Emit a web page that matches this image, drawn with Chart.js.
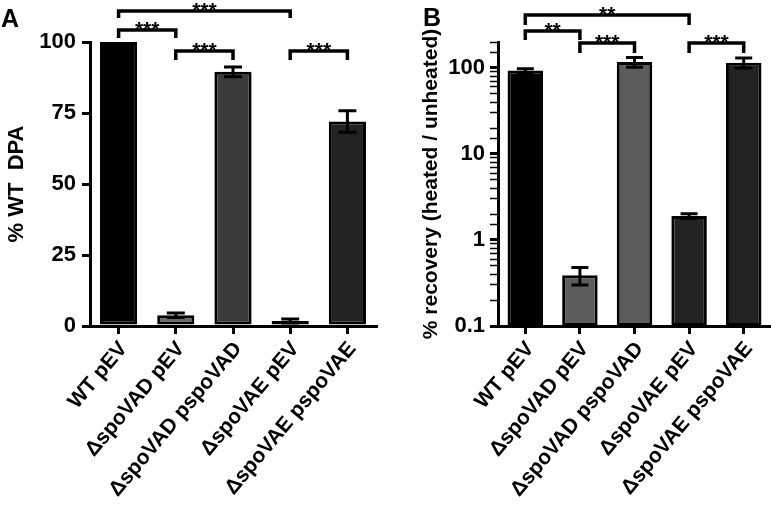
<!DOCTYPE html>
<html>
<head>
<meta charset="utf-8">
<script src="https://cdn.jsdelivr.net/npm/chart.js@4.4.1/dist/chart.umd.min.js"></script>
<style>
  html, body { margin: 0; padding: 0; background: #fff; }
  #wrap { position: relative; width: 771px; height: 507px; overflow: hidden; }
  canvas { position: absolute; top: 0; }
  #chartA { left: 0; }
  #chartB { left: 390px; }
</style>
</head>
<body>
<div id="wrap">
  <canvas id="chartA" width="390" height="507"></canvas>
  <canvas id="chartB" width="381" height="507"></canvas>
</div>
<script>
// strains
const categories = ['WT pEV', 'ΔspoVAD pEV', 'ΔspoVAD pspoVAD', 'ΔspoVAE pEV', 'ΔspoVAE pspoVAE'];

// panel A: % WT DPA (mean, error)
const dpaMean = [100, 3.8, 89.5, 1.8, 72];
const dpaErr = [0, 0.8, 1.7, 0.7, 3.8];
const dpaTicks = [0, 25, 50, 75, 100];

// panel B: % recovery (heated / unheated), log axis
const recoveryMean = [93, 0.39, 117, 1.9, 115];
const recoveryErr = [5, 0.09, 15, 0.12, 15];
const recoveryLabels = [0.1, 1, 10, 100];

// significance brackets (category index from -> to)
const sigAFrom = [0, 0, 1, 3];
const sigATo = [3, 1, 2, 4];
const sigAText = ['***', '***', '***', '***'];
const sigBFrom = [0, 0, 1, 3];
const sigBTo = [3, 1, 2, 4];
const sigBText = ['**', '**', '***', '***'];

const FONT = "'Liberation Sans', Arial, sans-serif";
Chart.defaults.font.family = FONT;
Chart.defaults.color = '#000';

const extras = {
    id: 'extras',
    afterDatasetsDraw(chart, args, opts) {
        const ctx = chart.ctx, y = chart.scales.y;
        const meta = chart.getDatasetMeta(0);
        ctx.save();
        ctx.strokeStyle = '#000';
        ctx.lineWidth = 3;
        opts.errors.forEach((e, i) => {
            if (!e) return;
            const v = opts.means[i];
            const px = meta.data[i].x;
            const top = y.getPixelForValue(v + e);
            const bot = y.getPixelForValue(v - e);
            ctx.beginPath();
            ctx.moveTo(px, top); ctx.lineTo(px, bot);
            ctx.moveTo(px - opts.cap, top); ctx.lineTo(px + opts.cap, top);
            ctx.moveTo(px - opts.cap, bot); ctx.lineTo(px + opts.cap, bot);
            ctx.stroke();
        });
        ctx.restore();
    },
    afterDraw(chart, args, opts) {
        const ctx = chart.ctx, x = chart.scales.x;
        ctx.save();
        ctx.strokeStyle = '#000';
        ctx.fillStyle = '#000';
        ctx.lineWidth = 3.5;
        ctx.lineJoin = 'miter';
        ctx.textAlign = 'center';
        ctx.textBaseline = 'alphabetic';
        ctx.font = 'bold 21px ' + FONT;
        opts.from.forEach((f, i) => {
            const x1 = x.getPixelForValue(f);
            const x2 = x.getPixelForValue(opts.to[i]);
            const yy = opts.levels[i], leg = opts.legs[i];
            ctx.beginPath();
            ctx.moveTo(x1, yy + leg); ctx.lineTo(x1, yy); ctx.lineTo(x2, yy); ctx.lineTo(x2, yy + leg);
            ctx.stroke();
            ctx.fillText(opts.text[i], (x1 + x2) / 2, yy + 6);
        });
        // panel letter
        ctx.textAlign = 'left';
        ctx.font = 'bold 25px ' + FONT;
        ctx.fillText(opts.letter, opts.letterX, opts.letterY);
        ctx.restore();
    }
};

function isPow10(v) {
    const l = Math.log10(v);
    return Math.abs(l - Math.round(l)) < 1e-6;
}

function makeChart(id, o) {
    const yScale = Object.assign({
        border: { display: true, width: 3, color: '#000' },
        grid: { drawOnChartArea: false, drawTicks: true, tickLength: 8, color: '#000', lineWidth: 3 },
        ticks: { font: { size: 22, weight: 'bold' }, color: '#000', padding: 6, autoSkip: false },
        title: { display: true, text: o.yTitle, font: { size: o.titleSize, weight: 'bold' }, color: '#000', padding: { top: 4, bottom: 4 } },
        afterFit: s => { s.width = o.yWidth; }
    }, o.y);

    return new Chart(document.getElementById(id), {
        type: 'bar',
        data: {
            labels: categories,
            datasets: [{
                data: o.means,
                backgroundColor: o.colors,
                borderColor: '#000',
                borderWidth: 3,
                borderSkipped: false,
                barPercentage: 0.65,
                categoryPercentage: 1
            }]
        },
        options: {
            responsive: false,
            animation: false,
            layout: { padding: o.padding },
            plugins: {
                legend: { display: false },
                tooltip: { enabled: false },
                extras: Object.assign({ means: o.means, errors: o.errors, cap: o.cap }, o.sig)
            },
            scales: {
                x: {
                    type: 'category',
                    border: { display: true, width: 3, color: '#000' },
                    grid: { offset: false, drawOnChartArea: false, drawTicks: true, tickLength: 8, color: '#000', lineWidth: 3 },
                    ticks: { font: { size: 21, weight: 'bold' }, color: '#000', autoSkip: false, minRotation: 50, maxRotation: 50, padding: 3, labelOffset: 5 },
                    afterFit: s => { s.height = 181; }
                },
                y: yScale
            }
        },
        plugins: [extras]
    });
}

// === PANEL A ===
makeChart('chartA', {
    means: dpaMean,
    errors: dpaErr,
    colors: ['#000000', '#666666', '#3b3b3b', '#f4f4f4', '#222222'],
    cap: 9,
    padding: { top: 42, right: 14, left: 0, bottom: 0 },
    yWidth: 90,
    yTitle: '% WT  DPA',
    titleSize: 22,
    y: {
        type: 'linear', min: 0, max: 100,
        afterBuildTicks: s => { s.ticks = dpaTicks.map(v => ({ value: v })); }
    },
    sig: { from: sigAFrom, to: sigATo, text: sigAText, levels: [11, 30, 51, 51], legs: [7, 8, 9, 9], letter: 'A', letterX: 1, letterY: 27 }
});

// === PANEL B ===
makeChart('chartB', {
    means: recoveryMean,
    errors: recoveryErr,
    colors: ['#000000', '#5c5c5c', '#5c5c5c', '#222222', '#222222'],
    cap: 8.5,
    padding: { top: 42, right: 0, left: 25, bottom: 0 },
    yWidth: 83,
    yTitle: '% recovery (heated / unheated)',
    titleSize: 21,
    y: {
        type: 'logarithmic', min: 0.1, max: 200,
        ticks: {
            font: { size: 22, weight: 'bold' }, color: '#000', padding: 5, autoSkip: false,
            callback: v => (recoveryLabels.some(t => Math.abs(t - v) < 1e-9) ? String(v) : '')
        },
        grid: {
            drawOnChartArea: false, drawTicks: true, tickLength: 8, color: '#000', lineWidth: 3,
            tickWidth: c => (c.tick && isPow10(c.tick.value) ? 3 : 1.5)
        }
    },
    sig: { from: sigBFrom, to: sigBTo, text: sigBText, levels: [15, 31, 43, 43], legs: [10, 9, 10, 10], letter: 'B', letterX: 33, letterY: 26 }
});
</script>
</body>
</html>
